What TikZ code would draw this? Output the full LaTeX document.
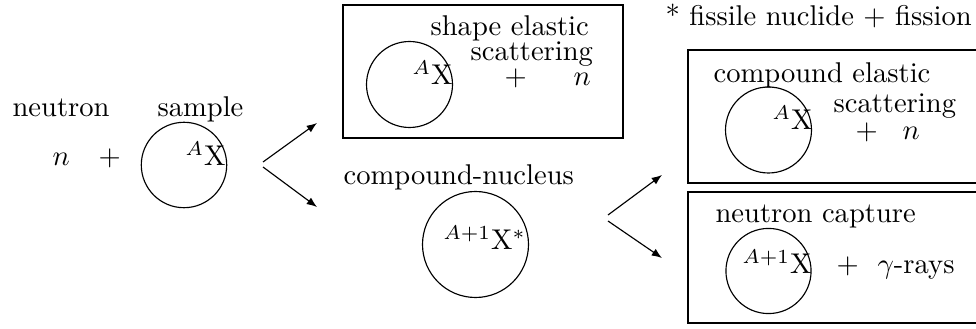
\documentclass[tikz,border=0pt]{standalone}
\usepackage{amsmath,amssymb}
\usetikzlibrary{arrows.meta}
\tikzset{
  atom/.style={draw, circle, inner sep=0pt},
  txt/.style={inner sep=0pt, anchor=base west},
  chanbox/.style={draw, line width=0.9pt, rectangle, inner sep=0pt},
  reacarr/.style={-{Latex[length=3.6pt, width=2.8pt]}},
}

\begin{document}
\begin{tikzpicture}[x=0.35pt, y=-0.35pt]
 \useasboundingbox (0,0) rectangle (976,329);
 \clip (0,0) rectangle (976,329);

 % incoming neutron and sample
 \node[txt] (neutron) at (12,117) {neutron};
 \node[txt] (samplelbl) at (157,117) {sample};
 \node[txt] (nin) at (52,166) {$n$};
 \node[txt] (plusin) at (98,166) {$+$};
 \node[atom, minimum size=29.9pt] (sample) at (184,165) {};
 \node[txt] (samplenuc) at (185,166) {$^{A}$X};

 % shape elastic scattering
 \node[chanbox, minimum width=98pt, minimum height=46.6pt] (shapebox) at (483,71.5) {};
 \node[txt] (shapelbl) at (430,36) {shape elastic};
 \node[txt] (shapelblb) at (470,61) {scattering};
 \node[atom, minimum size=30.1pt] (shapeatom) at (409.5,84.5) {};
 \node[txt] (shapenuc) at (412,85) {$^{A}$X};
 \node[txt] (shapeplus) at (504,86) {$+$};
 \node[txt] (shapen) at (573,86) {$n$};

 % compound nucleus
 \node[txt] (cnlbl) at (343,185) {compound-nucleus};
 \node[atom, minimum size=37.1pt] (cnatom) at (475.5,244.5) {};
 \node[txt] (cnnuc) at (443,250) {$^{A+1}$X$^{*}$};

 % compound elastic scattering
 \node[txt] (fissnote) at (665,26) {* fissile nuclide $+$ fission};
 \node[chanbox, minimum width=109.2pt, minimum height=46.6pt] (celbox) at (844,116.5) {};
 \node[txt] (cellbl) at (713,83) {compound elastic};
 \node[txt] (cellblb) at (833,113) {scattering};
 \node[atom, minimum size=30.1pt] (celatom) at (768.5,130) {};
 \node[txt] (celnuc) at (772,130) {$^{A}$X};
 \node[txt] (celplus) at (855,140) {$+$};
 \node[txt] (celn) at (902,140) {$n$};

 % neutron capture
 \node[chanbox, minimum width=109.2pt, minimum height=45.9pt] (capbox) at (844,257.5) {};
 \node[txt] (caplbl) at (715,223) {neutron capture};
 \node[atom, minimum size=29.8pt] (capatom) at (768.5,271) {};
 \node[txt] (capnuc) at (742,274) {$^{A+1}$X};
 \node[txt] (capplus) at (836,274) {$+$};
 \node[txt] (capgam) at (877,274) {$\gamma$-rays};

 % branches
 \coordinate (forka) at (263,162);
 \coordinate (forkb) at (263,167);
 \coordinate (toshape) at (317,123);
 \coordinate (tocn) at (317,207);
 \coordinate (forkc) at (608,215);
 \coordinate (forkd) at (608,221);
 \coordinate (tocel) at (662,175);
 \coordinate (tocap) at (662,258);
 \draw[reacarr] (forka) -- (toshape);
 \draw[reacarr] (forkb) -- (tocn);
 \draw[reacarr] (forkc) -- (tocel);
 \draw[reacarr] (forkd) -- (tocap);
\end{tikzpicture}
\end{document}
